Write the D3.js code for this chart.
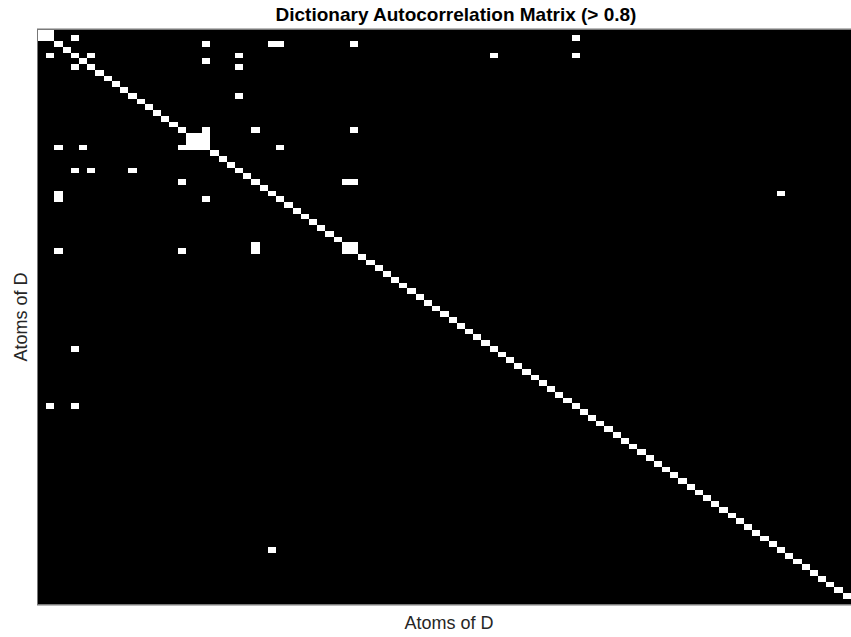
<!DOCTYPE html>
<html>
<head>
<meta charset="utf-8">
<script src="https://cdn.jsdelivr.net/npm/d3@7"></script>
<style>
  html, body { margin: 0; padding: 0; background: #fff; }
  svg { display: block; }
</style>
</head>
<body>
<svg id="chart"></svg>
<script>
// number of dictionary atoms (matrix is nAtoms x nAtoms)
const nAtoms = 100
// off-diagonal atom pairs with |correlation| > 0.8 (upper triangle)
const pairRows = [0, 1, 1, 2, 2, 2, 2, 4, 4, 4, 4, 5, 6, 11, 17, 17, 17, 18, 18, 19, 20, 26, 26, 28, 37]
const pairCols = [1, 4, 65, 20, 28, 29, 38, 6, 24, 55, 65, 20, 24, 24, 20, 26, 38, 19, 20, 20, 29, 37, 38, 90, 38]
const titleText = 'Dictionary Autocorrelation Matrix (> 0.8)'
const xLabel = 'Atoms of D'
const yLabel = 'Atoms of D'

const width = 851
const height = 637
// the axes run a little past the right edge of the figure (last column is cut off)
const margin = { left: 38, top: 29.5, right: -8, bottom: 32.5 }
const innerWidth = width - margin.left - margin.right
const innerHeight = height - margin.top - margin.bottom

const svg = d3.select('#chart')
  .attr('width', width)
  .attr('height', height)

const atoms = d3.range(nAtoms)
const xScale = d3.scaleBand().domain(atoms).range([0, innerWidth]).padding(0)
const yScale = d3.scaleBand().domain(atoms).range([0, innerHeight]).padding(0)

// build the thresholded matrix cells: diagonal + symmetric pairs
const cells = atoms.map(i => [i, i])
pairRows.forEach((r, k) => {
  const c = pairCols[k]
  cells.push([r, c])
  cells.push([c, r])
})

const g = svg.append('g')
  .attr('transform', `translate(${margin.left},${margin.top})`)

g.append('rect')
  .attr('width', innerWidth)
  .attr('height', innerHeight)
  .attr('fill', '#000')

g.selectAll('rect.cell')
  .data(cells)
  .enter()
  .append('rect')
  .attr('class', 'cell')
  .attr('x', d => xScale(d[1]))
  .attr('y', d => yScale(d[0]))
  .attr('width', xScale.bandwidth())
  .attr('height', yScale.bandwidth())
  .attr('fill', '#fff')
  .attr('shape-rendering', 'crispEdges')

// axes box
g.append('rect')
  .attr('x', -0.5)
  .attr('y', -0.5)
  .attr('width', innerWidth + 1)
  .attr('height', innerHeight + 1)
  .attr('fill', 'none')
  .attr('stroke', '#777')
  .attr('stroke-width', 1)

// title
svg.append('text')
  .attr('x', 456)
  .attr('y', 21)
  .attr('text-anchor', 'middle')
  .attr('font-family', 'Liberation Sans, Arial, sans-serif')
  .attr('font-weight', 'bold')
  .attr('font-size', 19)
  .attr('fill', '#000')
  .text(titleText)

// x label
svg.append('text')
  .attr('x', 449)
  .attr('y', 629)
  .attr('text-anchor', 'middle')
  .attr('font-family', 'Liberation Sans, Arial, sans-serif')
  .attr('font-size', 18)
  .attr('fill', '#262626')
  .text(xLabel)

// y label
svg.append('text')
  .attr('transform', `translate(27,${margin.top + innerHeight / 2}) rotate(-90)`)
  .attr('text-anchor', 'middle')
  .attr('font-family', 'Liberation Sans, Arial, sans-serif')
  .attr('font-size', 18)
  .attr('fill', '#262626')
  .text(yLabel)
</script>
</body>
</html>
